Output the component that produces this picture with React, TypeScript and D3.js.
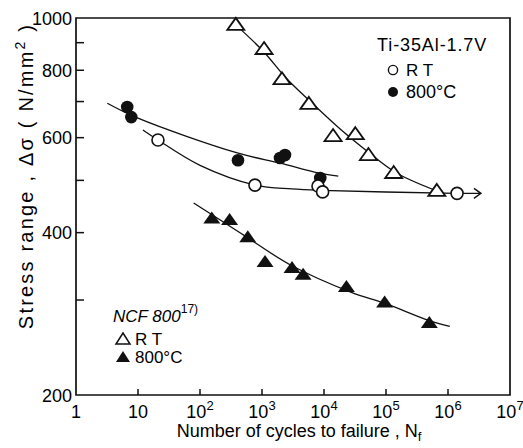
import * as d3 from 'd3'
import { useEffect, useRef } from 'react'

// decades on the x axis, labels as [base, exponent]
const xTicks = [1, 10, 1e2, 1e3, 1e4, 1e5, 1e6, 1e7]
const xTickLabels = [['1', ''], ['10', ''], ['10', '2'], ['10', '3'], ['10', '4'], ['10', '5'], ['10', '6'], ['10', '7']]
const yTicks = [200, 300, 400, 500, 600, 700, 800, 900, 1000]
const yTickLabels = [200, 400, 600, 800, 1000]

// Ti-35Al-1.7V, room temperature (open circles)
const tiRT = [[21, 594], [770, 490], [8000, 488], [9500, 476], [1.4e6, 473]]
const tiRTCurve = [[12, 620], [21, 594], [100, 533], [770, 490], [3000, 482], [9000, 479], [1.4e6, 473]]
const tiRTArrowEnd = 3.4e6
// Ti-35Al-1.7V, 800 C (filled circles)
const ti800 = [[6.7, 684], [7.8, 655], [410, 545], [1950, 550], [2350, 557], [8700, 505]]
const ti800Curve = [[3.2, 695], [10, 652], [400, 562], [2000, 538], [7000, 518], [17000, 509]]
// NCF 800, room temperature (open triangles)
const ncfRT = [[378, 971], [1080, 876], [2100, 770], [5700, 693], [14000, 604], [32000, 609], [52000, 557], [133000, 516], [660000, 478]]
const ncfRTCurve = [[378, 971], [1074, 865], [2440, 774], [6200, 698], [19000, 620], [52000, 564], [148000, 516], [660000, 478]]
// NCF 800, 800 C (filled triangles)
const ncf800 = [[155, 425], [300, 422], [590, 392], [1120, 353], [3050, 344], [4600, 334], [23000, 317], [95000, 297], [500000, 272]]
const ncf800Curve = [[79, 454], [455, 399], [2940, 348], [27600, 310], [94600, 296], [489000, 275], [1.07e6, 268]]

const font = "'Liberation Sans', Arial, sans-serif"
const tri = 'M0,-7L8.5,5L-8.5,5Z'

function makeChart(node: SVGSVGElement) {
    const svg = d3.select(node)
    svg.selectAll('*').remove()

    const x = d3.scaleLog().domain([1, 1e7]).range([76, 510])
    const y = d3.scaleLog().domain([200, 1000]).range([395, 18])

    // frame
    svg.append('path')
        .attr('d', `M${x(1)},${y(1000)}H${x(1e7)}V${y(200)}H${x(1)}Z`)
        .attr('fill', 'none').attr('stroke', '#111').attr('stroke-width', 1.7)

    // inward ticks
    svg.selectAll('.yt').data(yTicks.slice(1, -1)).enter().append('line')
        .attr('x1', x(1)).attr('x2', x(1) + 8)
        .attr('y1', d => y(d)).attr('y2', d => y(d))
        .attr('stroke', '#111').attr('stroke-width', 1.5)
    svg.selectAll('.xt').data(xTicks.slice(1, -1)).enter().append('line')
        .attr('x1', d => x(d)).attr('x2', d => x(d))
        .attr('y1', y(200)).attr('y2', y(200) - 6)
        .attr('stroke', '#111').attr('stroke-width', 1.5)

    // tick labels
    svg.selectAll('.yl').data(yTickLabels).enter().append('text')
        .attr('x', x(1) - 4).attr('y', d => y(d) + 6.5)
        .attr('text-anchor', 'end')
        .attr('font-family', font).attr('font-size', 18)
        .text(d => d)
    const xl = svg.selectAll('.xl').data(xTicks).enter().append('text')
        .attr('x', (d, i) => x(d) + (xTickLabels[i][1] ? 0 : 0))
        .attr('y', 418)
        .attr('text-anchor', 'middle')
        .attr('font-family', font).attr('font-size', 18)
    xl.append('tspan').text((d, i) => xTickLabels[i][0])
    xl.append('tspan').attr('dy', -8).attr('font-size', 13).text((d, i) => xTickLabels[i][1])

    // axis titles
    const xt = svg.append('text')
        .attr('x', 299).attr('y', 437)
        .attr('text-anchor', 'middle')
        .attr('font-family', font).attr('font-size', 18)
    xt.append('tspan').text('Number of cycles to failure , N')
    xt.append('tspan').attr('dy', 4).attr('font-size', 13).text('f')

    const yt = svg.append('text')
        .attr('transform', 'translate(33,176) rotate(-90)')
        .attr('text-anchor', 'middle')
        .attr('font-family', font).attr('font-size', 20)
        .attr('letter-spacing', 2.2)
    yt.append('tspan').text('Stress range , Δσ ( N/mm')
    yt.append('tspan').attr('dy', -8).attr('font-size', 14).text('2')
    yt.append('tspan').attr('dy', 8).text(' )')

    // fitted curves
    const line = d3.line<number[]>()
        .x(d => x(d[0])).y(d => y(d[1]))
        .curve(d3.curveCatmullRom.alpha(0.5))
    ;[tiRTCurve, ti800Curve, ncfRTCurve, ncf800Curve].forEach(c => {
        svg.append('path').attr('d', line(c))
            .attr('fill', 'none').attr('stroke', '#111').attr('stroke-width', 1.3)
    })

    // run-out arrow
    const ay = y(473)
    const ax = x(tiRTArrowEnd)
    svg.append('path')
        .attr('d', `M${x(1.4e6)},${ay}H${ax}M${ax - 7},${ay - 5}L${ax},${ay}L${ax - 7},${ay + 5}`)
        .attr('fill', 'none').attr('stroke', '#111').attr('stroke-width', 1.4)

    // markers
    svg.selectAll('.ncfrt').data(ncfRT).enter().append('path')
        .attr('d', tri)
        .attr('transform', d => `translate(${x(d[0])},${y(d[1])})`)
        .attr('fill', 'white').attr('stroke', '#111').attr('stroke-width', 1.8)
    svg.selectAll('.ncf8').data(ncf800).enter().append('path')
        .attr('d', tri)
        .attr('transform', d => `translate(${x(d[0])},${y(d[1])})`)
        .attr('fill', '#111')
    svg.selectAll('.ti8').data(ti800).enter().append('circle')
        .attr('cx', d => x(d[0])).attr('cy', d => y(d[1])).attr('r', 6.3)
        .attr('fill', '#111')
    svg.selectAll('.tirt').data(tiRT).enter().append('circle')
        .attr('cx', d => x(d[0])).attr('cy', d => y(d[1])).attr('r', 6)
        .attr('fill', 'white').attr('stroke', '#111').attr('stroke-width', 1.6)

    // legend, Ti alloy
    const lg = (tx: number, ty: number, s: string, size: number, style = 'normal') =>
        svg.append('text').attr('x', tx).attr('y', ty)
            .attr('font-family', font).attr('font-size', size).attr('font-style', style)
            .text(s)
    lg(377, 51, 'Ti-35Al-1.7V', 18).attr('letter-spacing', 0.9)
    svg.append('circle').attr('cx', 393).attr('cy', 70).attr('r', 4.6)
        .attr('fill', 'white').attr('stroke', '#111').attr('stroke-width', 1.4)
    lg(406, 76, 'R T', 17)
    svg.append('circle').attr('cx', 393).attr('cy', 92).attr('r', 5).attr('fill', '#111')
    lg(406, 98, '800°C', 18)

    // legend, NCF 800
    const n = lg(113, 322, 'NCF 800', 17, 'italic')
    n.append('tspan').attr('dy', -9).attr('font-size', 12).attr('font-style', 'normal').text('17)')
    svg.append('path').attr('d', 'M0,-6L7,5L-7,5Z')
        .attr('transform', 'translate(123,339)')
        .attr('fill', 'white').attr('stroke', '#111').attr('stroke-width', 1.5)
    lg(135, 345, 'R T', 17)
    svg.append('path').attr('d', 'M0,-6L7,5L-7,5Z')
        .attr('transform', 'translate(123,357)')
        .attr('fill', '#111')
    lg(135, 363, '800°C', 17)
}

function App() {
    const ref = useRef<SVGSVGElement>(null)
    useEffect(() => {
        if (ref.current) makeChart(ref.current)
    })

    return (
        <svg ref={ref} width="523" height="448"
            style={{ position: 'absolute', left: 0, top: 0, background: 'white' }}>
        </svg>
    )
}

export default App
